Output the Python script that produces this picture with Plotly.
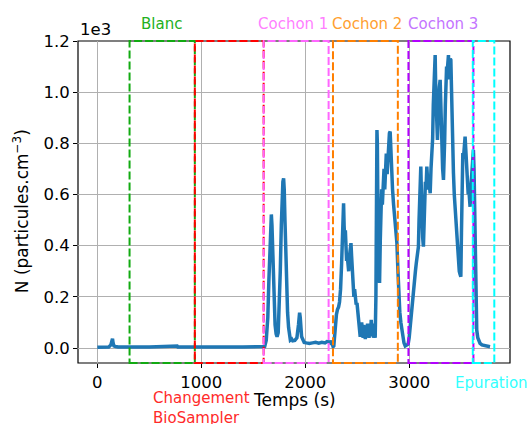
import plotly.graph_objects as go

# ---- data ----
temps = [0, 30, 60, 90, 110, 130, 140, 146, 152, 160, 175, 200, 300, 500, 768, 775, 1000, 1184, 1190, 1400,
         1590, 1610, 1625, 1640, 1650, 1660, 1668, 1674, 1680, 1686, 1692, 1700, 1710, 1720, 1729, 1740, 1750,
         1760, 1770, 1778, 1785, 1792, 1798, 1805, 1812, 1820, 1830, 1840, 1850, 1857, 1870, 1880, 1900, 1920,
         1935, 1940, 1946, 1952, 1958, 1965, 1975, 1990, 2010, 2040, 2070, 2100, 2130, 2160, 2190, 2210, 2225,
         2240, 2250, 2260, 2268, 2275, 2280, 2290, 2300, 2310, 2321, 2330, 2340, 2350, 2358, 2364, 2369, 2374,
         2380, 2386, 2392, 2398, 2402, 2410, 2418, 2426, 2433, 2440, 2446, 2452, 2460, 2468, 2475, 2483, 2490,
         2498, 2505, 2512, 2520, 2529, 2536, 2543, 2550, 2557, 2564, 2571, 2578, 2585, 2592, 2600, 2607, 2614,
         2621, 2628, 2635, 2642, 2650, 2657, 2664, 2673, 2680, 2686, 2690, 2694, 2698, 2703, 2708, 2715, 2722,
         2728, 2735, 2742, 2750, 2758, 2765, 2772, 2780, 2788, 2796, 2804, 2810, 2817, 2823, 2830, 2840, 2850,
         2860, 2870, 2882, 2892, 2900, 2910, 2920, 2930, 2940, 2950, 2962, 2978, 2990, 3000, 3010, 3020, 3030,
         3041, 3050, 3060, 3068, 3076, 3082, 3089, 3095, 3100, 3106, 3112, 3118, 3124, 3130, 3137, 3143, 3150,
         3156, 3162, 3170, 3178, 3186, 3194, 3202, 3210, 3218, 3226, 3232, 3238, 3244, 3250, 3256, 3262, 3268,
         3272, 3278, 3284, 3290, 3298, 3304, 3310, 3316, 3322, 3330, 3336, 3342, 3348, 3354, 3360, 3366, 3372,
         3378, 3384, 3390, 3396, 3401, 3408, 3414, 3420, 3426, 3434, 3442, 3450, 3458, 3464, 3470, 3476, 3482,
         3488, 3497, 3503, 3508, 3512, 3516, 3522, 3528, 3532, 3538, 3544, 3550, 3556, 3562, 3568, 3574, 3580,
         3586, 3592, 3598, 3604, 3610, 3618, 3624, 3628, 3634, 3640, 3645, 3650, 3660, 3670, 3682, 3700, 3720,
         3740, 3760, 3778]
particules = [3, 4, 3, 6, 4, 12, 30, 36, 18, 8, 6, 4, 4, 4, 8, 4, 4, 7, 4, 4,
              4, 6, 30, 120, 260, 400, 500, 522, 480, 380, 250, 150, 90, 55, 44, 60, 150,
              300, 480, 600, 650, 663, 620, 500, 360, 240, 140, 80, 45, 31, 35, 28, 30, 40,
              90, 120, 138, 120, 70, 45, 35, 22, 20, 18, 20, 22, 19, 22, 20, 25, 24,
              20, 28, 10, 5, 8, 30, 100, 130, 150, 160, 180, 230, 330, 460, 540, 566, 480,
              420, 460, 380, 340, 371, 330, 300, 360, 400, 410, 360, 300, 250, 200, 230, 180, 170,
              176, 140, 100, 70, 44, 60, 100, 70, 40, 90, 55, 35, 80, 45, 95, 50, 40,
              85, 45, 110, 50, 95, 40, 70, 40, 200, 650, 852, 800, 600, 420, 320, 254, 420,
              500, 620, 560, 640, 700, 620, 720, 760, 680, 760, 800, 840, 846, 780, 680, 620, 560,
              520, 460, 410, 300, 200, 140, 100, 70, 40, 20, 8, 12, 15, 40, 90, 140, 190,
              227, 260, 300, 330, 360, 380, 396, 500, 620, 680, 709, 600, 480, 430, 396, 500, 600,
              650, 620, 709, 650, 620, 640, 605, 700, 748, 820, 950, 1050, 1100, 1145, 1000, 900, 860,
              813, 900, 980, 1020, 1048, 950, 820, 760, 700, 657, 720, 820, 950, 1050, 1100, 1080, 1130,
              1145, 1050, 1100, 1130, 1126, 1000, 860, 750, 684, 600, 540, 480, 440, 422, 380, 330, 300,
              290, 279, 450, 600, 700, 762, 740, 790, 810, 826, 780, 720, 680, 640, 600, 620, 580,
              552, 620, 650, 700, 740, 774, 700, 600, 552, 400, 200, 70, 40, 28, 18, 12, 10,
              8, 6, 5]

# phases: label, start, end, line colour, label colour, label x position
phase_labels = ["Blanc", "Changement<br>BioSampler", "Cochon 1", "Cochon 2", "Cochon 3", "Epuration"]
phase_start = [310, 938, 1600, 2267, 2993, 3612]
phase_end = [938, 1600, 2225, 2891, 3618, 3819]
phase_colors = ["#11aa11", "#ff0000", "#ff66ff", "#ff7f00", "#b300ff", "#00ffff"]
label_colors = ["#22b022", "#ff2a2a", "#ff7fff", "#ffa030", "#c474ff", "#33ffff"]
label_x = [618, 512, 1886, 2597, 3326, 3790]

xticks = [0, 1000, 2000, 3000]
yticks = [0, 200, 400, 600, 800, 1000, 1200]
yticktext = ["0.0", "0.2", "0.4", "0.6", "0.8", "1.0", "1.2"]

XMIN, XMAX = -186, 3970
YMIN, YMAX = -58.6, 1200

FONT = "DejaVu Sans"


def xpaper(v):
    return (v - XMIN) / (XMAX - XMIN)


fig = go.Figure()
fig.add_trace(go.Scatter(x=temps, y=particules, mode="lines",
                         line=dict(color="#1f77b4", width=3.5), showlegend=False))

# axes frame (below the coloured boxes)
shapes = [dict(type="rect", xref="paper", yref="paper", x0=0, x1=1, y0=0, y1=1,
               line=dict(color="black", width=1.2), fillcolor="rgba(0,0,0,0)", layer="between")]
# phase boxes span the full y range (top and bottom edges lie on the frame)
for s, e, c in zip(phase_start, phase_end, phase_colors):
    shapes.append(dict(type="rect", xref="paper", yref="paper", x0=xpaper(s), x1=xpaper(e), y0=0, y1=1,
                       line=dict(color=c, width=2, dash="8px,3px"), fillcolor="rgba(0,0,0,0)",
                       layer="above"))

annotations = []
# top labels (Blanc, Cochon 1..3)
for i in [0, 2, 3, 4]:
    annotations.append(dict(x=label_x[i], y=1.053, xref="x", yref="paper",
                            text=phase_labels[i], showarrow=False, xanchor="center", yanchor="middle",
                            font=dict(family=FONT, size=15, color=label_colors[i])))
# Changement BioSampler below axis
annotations.append(dict(x=label_x[1], y=-0.075, xref="x", yref="paper", text=phase_labels[1],
                        showarrow=False, xanchor="left", yanchor="top", align="left",
                        font=dict(family=FONT, size=15, color=label_colors[1])))
# Epuration below axis
annotations.append(dict(x=label_x[5], y=-0.062, xref="x", yref="paper", text=phase_labels[5],
                        showarrow=False, xanchor="center", yanchor="middle",
                        font=dict(family=FONT, size=15, color=label_colors[5])))
# scale factor
annotations.append(dict(x=0, y=1.035, xref="paper", yref="paper", text="1e3", showarrow=False,
                        xanchor="left", yanchor="middle", font=dict(family=FONT, size=16.5, color="black")))
# axis titles
annotations.append(dict(x=0.5, y=-0.115, xref="paper", yref="paper", text="Temps (s)", showarrow=False,
                        xanchor="center", yanchor="middle", font=dict(family=FONT, size=17, color="black")))
annotations.append(dict(x=-0.133, y=0.47, xref="paper", yref="paper",
                        text="N (particules.cm<sup>−3</sup>)", showarrow=False, textangle=-90,
                        xanchor="center", yanchor="middle", font=dict(family=FONT, size=17, color="black")))

fig.update_layout(
    width=529, height=424,
    margin=dict(l=78, r=19, t=41, b=61),
    paper_bgcolor="white", plot_bgcolor="white",
    shapes=shapes, annotations=annotations,
    font=dict(family=FONT, size=16.5, color="black"),
    xaxis=dict(range=[XMIN, XMAX], tickvals=xticks, ticktext=[str(v) for v in xticks],
               showgrid=True, gridcolor="#b0b0b0", gridwidth=1, zeroline=False,
               showline=False, ticks="outside", ticklen=4, tickcolor="black",
               tickfont=dict(family=FONT, size=16.5, color="black")),
    yaxis=dict(range=[YMIN, YMAX], tickvals=yticks, ticktext=yticktext,
               showgrid=True, gridcolor="#b0b0b0", gridwidth=1, zeroline=False,
               showline=False, ticks="outside", ticklen=4, tickcolor="black",
               tickfont=dict(family=FONT, size=16.5, color="black")),
)

fig.write_html("out.html", config={"displayModeBar": False},
               post_script="document.body.style.margin='0';")
